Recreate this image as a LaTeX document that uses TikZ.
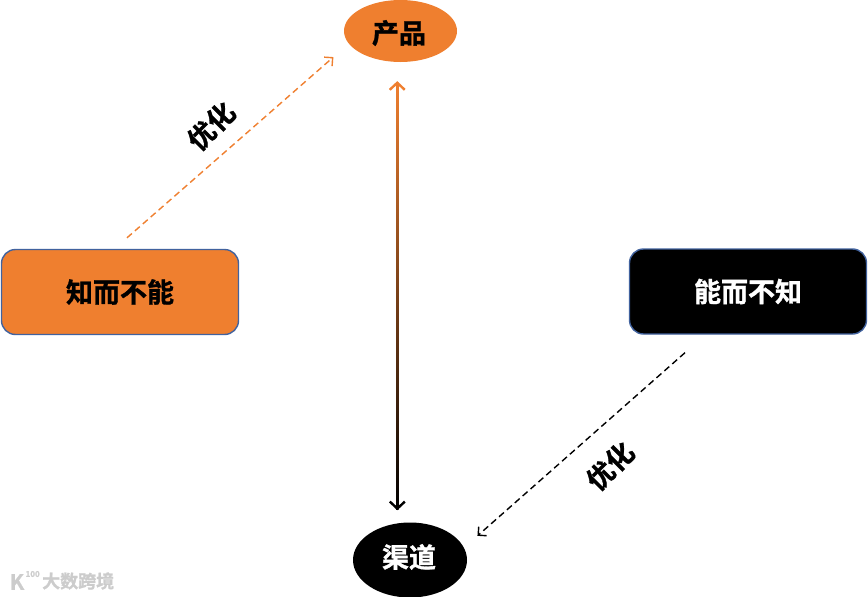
\documentclass[tikz,border=0pt]{standalone}
\usepackage{fontspec}
\usepackage{xcolor}
\usepackage{tikz}
\usetikzlibrary{arrows.meta,positioning,calc,shapes.geometric}
\setmainfont{Noto Sans CJK SC}[BoldFont={Noto Sans CJK SC Bold},BoldFeatures={FakeBold=1.2}]
\definecolor{prodcolor}{HTML}{EF7F2F}
\definecolor{edgecolor}{HTML}{41629E}

\begin{document}
\begin{tikzpicture}[
  x=1pt, y=-1pt,
  quadbox/.style={draw=edgecolor, line width=1.4pt, rounded corners=14pt, minimum width=237pt,
               minimum height=85pt, inner sep=0pt, font=\fontsize{27}{30}\selectfont\bfseries},
  hub/.style={ellipse, inner sep=0pt},
  hubtxt/.style={inner sep=0pt, font=\fontsize{27}{30}\selectfont\bfseries},
  lbl/.style={font=\fontsize{27}{30}\selectfont\bfseries, rotate=45, inner sep=0pt},
  dasharr/.style={-{Straight Barb[length=6pt,width=12pt]}, line width=1.4pt, dash pattern=on 6.5pt off 4pt},
  mark text/.style={font=\fontsize{18}{20}\selectfont\bfseries, text=black!20, inner sep=0pt},
]
  \useasboundingbox (0,0) rectangle (868,597);

  % Hubs
  \node[hub, fill=prodcolor, minimum width=113pt, minimum height=62pt] (prod) at (400.5,31) {};
  \node[hubtxt] (prodtxt) at (399,33) {产品};
  \node[hub, fill=black, minimum width=114pt, minimum height=75pt] (chan) at (410,560) {};
  \node[hubtxt, text=white] (chantxt) at (409,557) {渠道};

  % Boxes
  \node[quadbox, fill=prodcolor] (know) at (120,292) {知而不能};
  \node[quadbox, fill=black, text=white] (able) at (748,291.5) {能而不知};

  % Arrows
  \coordinate (gt) at ($(prod.-96.5)!19pt!(chan.109)$);
  \coordinate (gb) at ($(chan.109)!13pt!(prod.-96.5)$);
  \draw[{Straight Barb[length=7pt,width=15pt,color=prodcolor]}-{Straight Barb[length=7pt,width=15pt,color=black]},
        line width=2.4pt, prodcolor!50!black] (gt) -- (gb);
  \shade[top color=prodcolor, bottom color=black] ($(gt)+(-1.2,1)$) rectangle ($(gb)+(1.2,-1)$);
  \draw[dasharr, prodcolor] ($(know.north)+(7,-11)$) -- ($(prod.south west)+(-27,4)$);
  \draw[dasharr, black] ($(able.south)+(-63,18)$) -- ($(chan.north east)+(27,2.5)$);

  % Labels
  \node[lbl] (optl) at (211,126) {优化};
  \node[lbl] (optr) at (610,466) {优化};

  % Watermark
  \node[mark text, anchor=west] (wm) at (42,581) {大数跨境};
  \node[mark text, font=\fontsize{21}{21}\selectfont\bfseries] (wmk) at (17,582) {K};
  \node[mark text, font=\fontsize{8}{8}\selectfont\bfseries, right=1pt of wmk.north east, anchor=west] (wmn) {100};
\end{tikzpicture}
\end{document}
